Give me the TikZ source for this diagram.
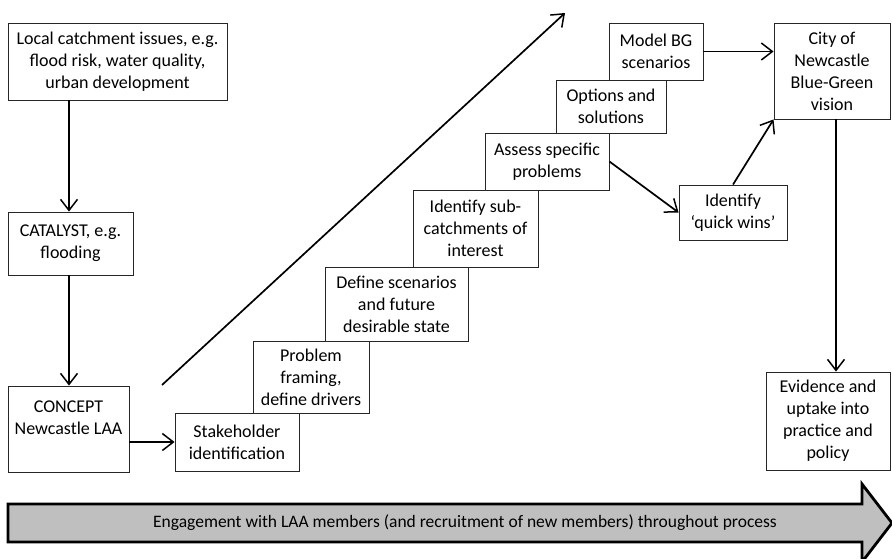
\documentclass[tikz,border=0pt]{standalone}
\usepackage{fontspec}
\setmainfont{Carlito}
\usetikzlibrary{arrows.meta}
\begin{document}
\begin{tikzpicture}[x=1pt,y=-1pt,
  box/.style={draw=black!85, line width=0.9pt, align=center, inner sep=0pt,
    font=\fontsize{18}{22}\selectfont},
  arr/.style={line width=1.7pt, -{Straight Barb[length=11pt,width=17pt,line width=1.5pt]}},
  bigarrow/.style={fill=black!25, draw=black, line width=2.8pt, line join=miter}]
\useasboundingbox (0,0) rectangle (892,558);
% left column
\node[box, minimum width=219, minimum height=77] (local) at (117.5,61.5)
  {Local catchment issues, e.g.\\flood risk, water quality,\\urban development};
\node[box, minimum width=125, minimum height=63] (cat) at (70.5,243.5)
  {CATALYST, e.g.\\flooding};
\node[box, minimum width=121, minimum height=86] (concept) at (68.5,429)
  {CONCEPT\\Newcastle LAA\\\mbox{}};
% staircase
\node[box, minimum width=124, minimum height=58] (stake) at (237,442)
  {Stakeholder\\identification};
\node[box, minimum width=116, minimum height=72] (prob) at (311,377)
  {Problem\\framing,\\define drivers};
\node[box, minimum width=143, minimum height=74] (def) at (396.5,304)
  {Define scenarios\\and future\\desirable state};
\node[box, minimum width=125, minimum height=77] (sub) at (475.5,228.5)
  {Identify sub-\\catchments of\\interest};
\node[box, minimum width=124, minimum height=57] (assess) at (547,161.5)
  {Assess specific\\problems};
\node[box, minimum width=110, minimum height=53] (opt) at (611,106.5)
  {Options and\\solutions};
\node[box, minimum width=94, minimum height=57] (model) at (656,51.5)
  {Model BG\\scenarios};
% right side
\node[box, minimum width=116, minimum height=96] (city) at (832,71)
  {City of\\Newcastle\\Blue-Green\\vision};
\node[box, minimum width=108, minimum height=55] (quick) at (733,212.5)
  {Identify\\‘quick wins’};
\node[box, minimum width=124, minimum height=98] (evid) at (828,421)
  {Evidence and\\uptake into\\practice and\\policy};
% connectors
\draw[arr] ([xshift=-1.5]cat.north |- local.south) -- ([xshift=-1.5]cat.north);
\draw[arr] ([xshift=-1.5]cat.south) -- ([xshift=-1.5]cat.south |- concept.north);
\draw[arr] (stake.west -| concept.east) -- (stake.west);
\draw[arr] (model.east) -- (model.east -| city.west);
\draw[arr] (assess.east) -- (quick.west);
\draw[arr] (quick.north) -- (city.south west);
\draw[arr] ([xshift=4]city.south) -- ([xshift=4]city.south |- evid.north);
\coordinate (dstart) at (162,385);
\coordinate (dend) at (565,13);
\draw[arr] (dstart) -- (dend);
% engagement arrow
\draw[bigarrow] (8,504) -- (862,504) -- (862,484) -- (892,523) -- (862,562)
  -- (862,542) -- (8,542) -- cycle;
\node[font=\fontsize{17.5}{20}\selectfont] (eng) at (465,523)
  {Engagement with LAA members (and recruitment of new members) throughout process};
\end{tikzpicture}
\end{document}
